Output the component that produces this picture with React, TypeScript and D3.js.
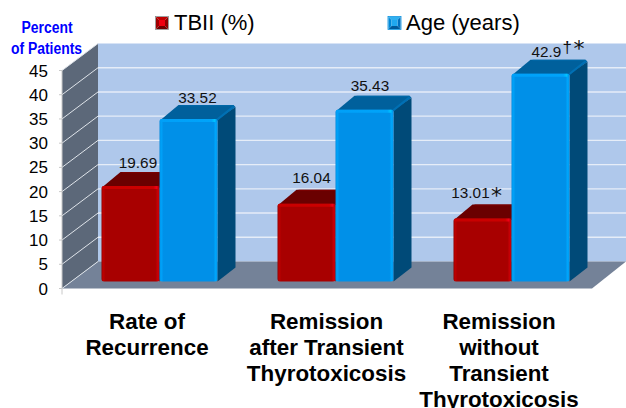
import React from "react";
import * as d3 from "d3";

const categories = ["Rate of Recurrence", "Remission after Transient Thyrotoxicosis", "Remission without Transient Thyrotoxicosis"];
const categoryLines = [["Rate of", "Recurrence"], ["Remission", "after Transient", "Thyrotoxicosis"], ["Remission", "without", "Transient", "Thyrotoxicosis"]];
const seriesNames = ["TBII (%)", "Age (years)"];
const tbii = [19.69, 16.04, 13.01];
const age = [33.52, 35.43, 42.9];
const tbiiMarks = ["", "", "*"];
const ageMarks = ["", "", "†*"];
const ticks = [0, 5, 10, 15, 20, 25, 30, 35, 40, 45];

const W = 626, H = 408;
const FONT = "'Liberation Sans', Arial, sans-serif";
const axisX = 62, y0Front = 288.5, hPlot = 218;
const wallDx = 36, wallDy = -27;
const barDx = 18, barDy = -14, barShiftY = -7;
const y = d3.scaleLinear().domain([0, 45]).range([y0Front, y0Front - hPlot]);
const band = d3.scaleBand().domain(categories).range([71.5, 599.5]).paddingInner(0).paddingOuter(0);
const groupCenter = (c: string) => (band(c) as number) + band.bandwidth() / 2;
const barW = 58;
// label nudges relative to each bar's centre and its top back edge
const redNudgeX = [7.5, 5, -12];
const redNudgeY = [-4, -7, -6.5];
const blueNudgeX = [9, 5.5, 6];
const blueNudgeY = [-2.5, -5, -2.5];

const poly = (pts: number[][]) => pts.map(p => p.join(",")).join(" ");

function Bar({ x, v, kind }: { x: number; v: number; kind: "r" | "b" }) {
  const top = y(v) + barShiftY;
  const bottom = y(0) + barShiftY;
  const c = kind === "r"
    ? { top: "#6a0000", side: "#5c0000", ridge: "#8a0000", back: "#7a0000" }
    : { top: "#00609c", side: "#004a78", ridge: "#0070b4", back: "#0068a8" };
  const xr = x + barW;
  return (
    <g>
      <polygon points={poly([[xr, bottom], [xr + barDx, bottom + barDy], [xr + barDx, top + barDy + 2], [xr, top]])} fill={c.side} />
      <polygon points={poly([[x + 1, top + 1], [x + barDx + 1, top + barDy], [xr + barDx - 2, top + barDy], [xr + barDx, top + barDy + 2], [xr, top + 1]])} fill={c.top} />
      <line x1={xr - 1} y1={top + 1} x2={xr + barDx - 2} y2={top + barDy + 1.5} stroke={c.ridge} strokeWidth={2} strokeLinecap="round" />
      <line x1={x + barDx + 3} y1={top + barDy + 0.6} x2={xr + barDx - 2} y2={top + barDy + 0.6} stroke={c.back} strokeWidth={1.2} />
      <rect x={x} y={top} width={barW} height={bottom - top} rx={2.5} fill={`url(#front-${kind})`} />
      <rect x={x + 0.5} y={top} width={barW - 1} height={3} rx={1.5} fill={`url(#topedge-${kind})`} />
    </g>
  );
}

function Swatch({ x, y: sy, s, colors, frame }: { x: number; y: number; s: number; colors: string[]; frame: string }) {
  const i = 3;
  return (
    <g>
      <rect x={x - 0.5} y={sy - 0.5} width={s + 1} height={s + 1} fill="none" stroke={frame} strokeWidth={0.8} />
      <polygon points={poly([[x, sy], [x + s, sy], [x + s - i, sy + i], [x + i, sy + i]])} fill={colors[0]} />
      <polygon points={poly([[x + s, sy], [x + s, sy + s], [x + s - i, sy + s - i], [x + s - i, sy + i]])} fill={colors[1]} />
      <polygon points={poly([[x, sy + s], [x + s, sy + s], [x + s - i, sy + s - i], [x + i, sy + s - i]])} fill={colors[2]} />
      <polygon points={poly([[x, sy], [x, sy + s], [x + i, sy + s - i], [x + i, sy + i]])} fill={colors[3]} />
      <rect x={x + i} y={sy + i} width={s - 2 * i} height={s - 2 * i} fill={colors[4]} />
    </g>
  );
}

export default function App() {
  return (
    <svg width={W} height={H} viewBox={`0 0 ${W} ${H}`} style={{ position: "absolute", left: 0, top: 0, background: "#fff" }} fontFamily={FONT}>
      <defs>
        <linearGradient id="front-r" x1="0" x2="1" y1="0" y2="0">
          <stop offset="0" stopColor="#8a0000" />
          <stop offset="0.025" stopColor="#c00000" />
          <stop offset="0.07" stopColor="#a80000" />
          <stop offset="0.93" stopColor="#a80000" />
          <stop offset="0.98" stopColor="#d00008" />
          <stop offset="1" stopColor="#800000" />
        </linearGradient>
        <linearGradient id="front-b" x1="0" x2="1" y1="0" y2="0">
          <stop offset="0" stopColor="#0088dc" />
          <stop offset="0.025" stopColor="#00a4fa" />
          <stop offset="0.07" stopColor="#0090e8" />
          <stop offset="0.93" stopColor="#0090e8" />
          <stop offset="0.975" stopColor="#00aaff" />
          <stop offset="1" stopColor="#0088dd" />
        </linearGradient>
        <linearGradient id="topedge-r" x1="0" x2="1" y1="0" y2="0">
          <stop offset="0" stopColor="#c80000" />
          <stop offset="0.9" stopColor="#cc0000" />
          <stop offset="0.96" stopColor="#f00018" />
          <stop offset="1" stopColor="#b00000" />
        </linearGradient>
        <linearGradient id="topedge-b" x1="0" x2="1" y1="0" y2="0">
          <stop offset="0" stopColor="#00a0f8" />
          <stop offset="0.9" stopColor="#00a4fa" />
          <stop offset="0.96" stopColor="#00c4ff" />
          <stop offset="1" stopColor="#0090e8" />
        </linearGradient>
      </defs>

      {/* back wall */}
      <rect x={axisX + wallDx} y={y(45) + wallDy} width={W - axisX - wallDx} height={hPlot} fill="#afc8eb" />
      {/* side wall */}
      <polygon points={poly([[axisX, y(0)], [axisX + wallDx, y(0) + wallDy], [axisX + wallDx, y(45) + wallDy], [axisX, y(45)]])} fill="#5c6879" />
      {/* floor */}
      <polygon points={poly([[axisX, y(0)], [592, y(0)], [626, y(0) + wallDy], [axisX + wallDx, y(0) + wallDy]])} fill="#748298" />

      {ticks.map(t => (
        <g key={t}>
          {t > 0 && t < 45 && <line x1={axisX + wallDx} x2={W} y1={y(t) + wallDy} y2={y(t) + wallDy} stroke="#e6edf8" strokeWidth={1.4} />}
          <line x1={axisX} x2={axisX + wallDx} y1={y(t)} y2={y(t) + wallDy} stroke="#dfe4ea" strokeWidth={1} />
          <line x1={axisX - 3} x2={axisX} y1={y(t)} y2={y(t)} stroke="#c8c8c8" strokeWidth={1} />
          <text x={48} y={y(t) + 6} textAnchor="end" fontSize={17} fill="#000">{t}</text>
        </g>
      ))}
      <line x1={axisX} x2={axisX} y1={y(45)} y2={y(0) + 6} stroke="#c8c8c8" strokeWidth={1} />

      {categories.map((c, i) => {
        const cx = groupCenter(c);
        return (
          <g key={c}>
            <Bar x={cx - barW} v={tbii[i]} kind="r" />
            <Bar x={cx} v={age[i]} kind="b" />
          </g>
        );
      })}

      {categories.map((c, i) => {
        const cx = groupCenter(c);
        const rx = cx - barW / 2 + redNudgeX[i];
        const bx = cx + barW / 2 + blueNudgeX[i];
        const ry = y(tbii[i]) + barShiftY + barDy + redNudgeY[i];
        const by = y(age[i]) + barShiftY + barDy + blueNudgeY[i];
        return (
          <g key={c} fontSize={15.3} fill="#111">
            <text x={rx} y={ry} textAnchor="middle">{tbii[i]}</text>
            {tbiiMarks[i] && <text x={rx + 20.5} y={ry + 5} fontSize={22} fontFamily="'DejaVu Sans'">{tbiiMarks[i]}</text>}
            <text x={bx} y={by} textAnchor="middle">{age[i]}</text>
            {ageMarks[i] && <text x={bx + 16} y={by - 4} fontSize={17}>{ageMarks[i][0]}</text>}
            {ageMarks[i] && <text x={bx + 27} y={by - 1} fontSize={22} fontFamily="'DejaVu Sans'">{ageMarks[i][1]}</text>}
          </g>
        );
      })}

      {categories.map((c, i) => {
        const cx = groupCenter(c) - (i === 1 ? 9 : 12.5);
        return (
          <text key={c} textAnchor="middle" fontSize={22.4} fontWeight={700} fill="#000">
            {categoryLines[i].map((l, j) => (
              <tspan key={j} x={cx} y={329 + j * 26}>{l}</tspan>
            ))}
          </text>
        );
      })}

      {/* y title */}
      <g fontWeight={700} fontSize={16} fill="#0000ff" textAnchor="middle">
        <text transform="translate(47,32.5) scale(0.87,1)">Percent</text>
        <text transform="translate(46.5,53.5) scale(0.87,1)">of Patients</text>
      </g>

      {/* legend */}
      <g>
        <Swatch x={156} y={17} s={12} colors={["#c00000", "#900000", "#700000", "#a00000", "#f00010"]} frame="#888" />
        <text x={174} y={30} fontSize={22} fill="#000">{seriesNames[0]}</text>
        <Swatch x={388.5} y={17} s={12} colors={["#30b0f0", "#0070c0", "#005a9c", "#0088d8", "#20a8f0"]} frame="#0090e0" />
        <text x={406} y={30} fontSize={22} fill="#000">{seriesNames[1]}</text>
      </g>
    </svg>
  );
}
